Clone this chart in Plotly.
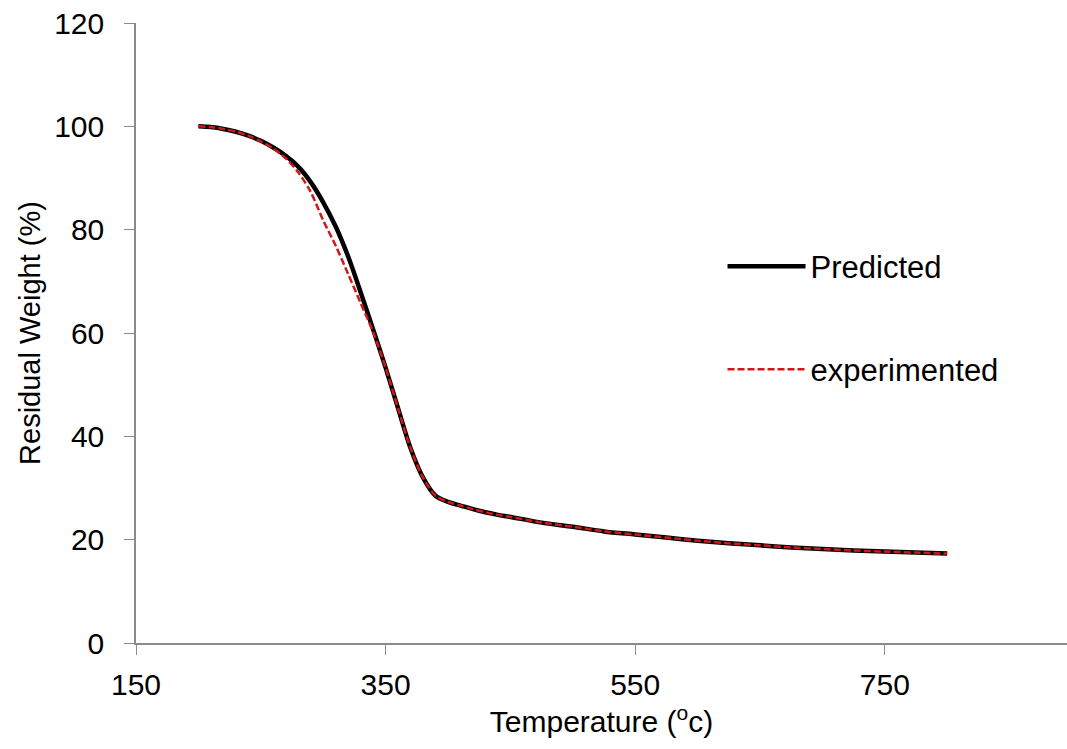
import plotly.graph_objects as go

temp_pred = [200, 210, 220, 230, 240, 250, 260, 270, 280, 290, 300, 310, 320, 330, 340, 350,
             360, 370, 380, 390, 400, 410, 420, 430, 440, 450, 475, 500, 525, 550, 575, 600,
             625, 650, 675, 700, 725, 750, 775, 800]
weight_pred = [100, 99.85, 99.5, 98.95, 98.2, 97.2, 95.9, 94.3, 92.2, 89.2, 85.3, 80.6, 74.8, 67.9, 60.7, 53.3,
               45.4, 37.7, 32.0, 28.5, 27.3, 26.6, 25.9, 25.3, 24.8, 24.4, 23.3, 22.5, 21.6, 21.0, 20.4, 19.8,
               19.3, 18.9, 18.5, 18.2, 17.9, 17.7, 17.5, 17.3]

temp_exp = temp_pred
weight_exp = [100, 99.85, 99.5, 98.95, 98.2, 97.1, 95.7, 93.8, 91.1, 87.3, 81.8, 76.9, 71.4, 65.8, 60.2, 53.3,
              45.4, 37.7, 32.0, 28.5, 27.3, 26.6, 25.9, 25.3, 24.8, 24.4, 23.3, 22.5, 21.6, 21.0, 20.4, 19.8,
              19.3, 18.9, 18.5, 18.2, 17.9, 17.7, 17.5, 17.3]

x_ticks = [150, 350, 550, 750]
y_ticks = [0, 20, 40, 60, 80, 100, 120]

FONT = "Liberation Sans, Arial, sans-serif"
AXIS_COLOR = "#8a8a8a"

fig = go.Figure()
fig.add_trace(go.Scatter(x=temp_pred, y=weight_pred, mode="lines", name="Predicted",
                         line=dict(color="black", width=4.5, shape="spline", smoothing=0.8),
                         legend="legend", showlegend=True))
fig.add_trace(go.Scatter(x=temp_exp, y=weight_exp, mode="lines", name="experimented",
                         line=dict(color="#d01818", width=2.5, dash="7px,3px", shape="spline", smoothing=0.8),
                         legend="legend2", showlegend=True))

fig.update_layout(
    width=1067, height=749,
    showlegend=True,
    margin=dict(l=136, r=0, t=23, b=106),
    paper_bgcolor="white", plot_bgcolor="white",
    font=dict(family=FONT, color="black", size=30),
    legend=dict(x=0.63, y=0.607, xanchor="left", yanchor="middle",
                font=dict(size=31, family=FONT), bgcolor="rgba(0,0,0,0)", itemwidth=78),
    legend2=dict(x=0.63, y=0.441, xanchor="left", yanchor="middle",
                 font=dict(size=31, family=FONT), bgcolor="rgba(0,0,0,0)", itemwidth=78),
    xaxis=dict(range=[150, 896], tickvals=x_ticks, showgrid=False, zeroline=False,
               showline=True, linecolor=AXIS_COLOR, linewidth=1.5,
               ticks="outside", ticklen=10, tickcolor=AXIS_COLOR, tickwidth=1,
               tickfont=dict(size=30), ticklabelstandoff=4,
               title=dict(text="Temperature (<sup>o</sup>c)", font=dict(size=30), standoff=4)),
    yaxis=dict(range=[0, 120], tickvals=y_ticks, showgrid=False, zeroline=False,
               showline=True, linecolor=AXIS_COLOR, linewidth=1.5,
               ticks="outside", ticklen=10, tickcolor=AXIS_COLOR, tickwidth=1,
               tickfont=dict(size=30), ticklabelstandoff=14,
               title=dict(text="Residual Weight (%)", font=dict(size=29), standoff=5)),
)

fig.write_html("out.html")
